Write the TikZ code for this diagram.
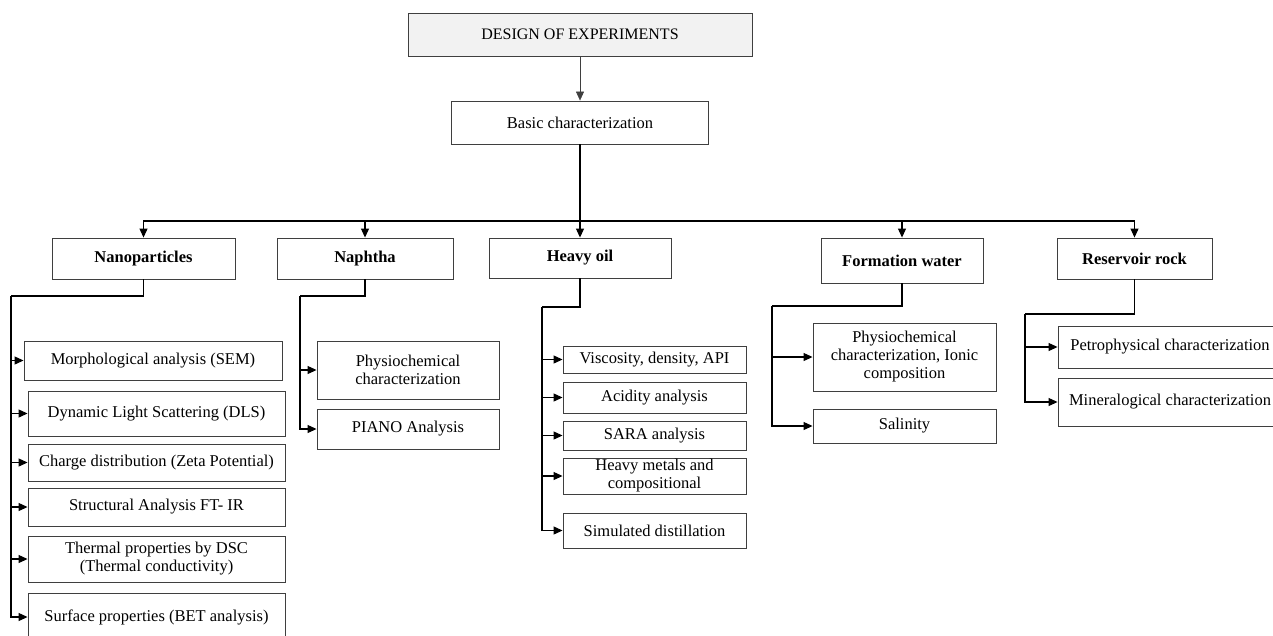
\documentclass[tikz,border=0pt]{standalone}
\usepackage{fontspec}
\setmainfont{Liberation Serif}
\usetikzlibrary{arrows.meta}
\definecolor{boxline}{HTML}{3F3F3F}
\definecolor{topfill}{HTML}{F2F2F2}

\begin{document}
\begin{tikzpicture}[
  x=1pt, y=-1pt,
  box/.style={draw=boxline, line width=0.9pt, align=center, inner sep=0.5pt,
              font=\fontsize{16.5}{18}\selectfont},
  head/.style={box, font=\fontsize{16.5}{18}\selectfont\bfseries},
  link/.style={line width=1.1pt},
  arrow/.style={link, -{Triangle[length=9pt, width=8pt]}},
]
\useasboundingbox (0,0) rectangle (1273,635);

\node[box, fill=topfill, minimum width=344pt, minimum height=43pt,
      font=\fontsize{16}{18}\selectfont] (doe) at (580, 34.5) {DESIGN OF EXPERIMENTS};
\node[box, minimum width=257pt, minimum height=43pt,
      font=\fontsize{16.5}{18}\selectfont] (basic) at (580, 122.5) {Basic characterization};

\node[head, minimum width=183pt, minimum height=41pt] (nano) at (143.5, 258.5) {Nanoparticles};
\node[head, minimum width=176pt, minimum height=41pt] (naph) at (365, 258.5) {Naphtha};
\node[head, minimum width=182pt, minimum height=40pt] (heavy) at (580, 258) {Heavy oil};
\node[head, minimum width=162pt, minimum height=45pt] (water) at (902, 260.5) {Formation water};
\node[head, minimum width=155pt, minimum height=41pt] (rock) at (1134.5, 258.5) {Reservoir rock};

\node[box, minimum width=258pt, minimum height=39pt] (nano1) at (153, 360.5) {Morphological analysis (SEM)};
\node[box, minimum width=257pt, minimum height=45pt] (nano2) at (156.5, 413.5) {Dynamic Light Scattering (DLS)};
\node[box, minimum width=257pt, minimum height=37pt] (nano3) at (156.5, 462.5) {Charge distribution (Zeta Potential)};
\node[box, minimum width=257pt, minimum height=38pt] (nano4) at (156.5, 507) {Structural Analysis FT- IR};
\node[box, minimum width=257pt, minimum height=46pt] (nano5) at (156.5, 559) {Thermal properties by DSC\\(Thermal conductivity)};
\node[box, minimum width=257pt, minimum height=48pt] (nano6) at (156.5, 617) {Surface properties (BET analysis)};

\node[box, minimum width=182pt, minimum height=58pt] (naph1) at (408, 370) {Physiochemical\\characterization};
\node[box, minimum width=182pt, minimum height=40pt] (naph2) at (408, 429) {PIANO Analysis};

\node[box, minimum width=183pt, minimum height=27pt] (heavy1) at (654.5, 359.5) {Viscosity, density, API};
\node[box, minimum width=183pt, minimum height=31pt] (heavy2) at (654.5, 397.5) {Acidity analysis};
\node[box, minimum width=183pt, minimum height=29pt] (heavy3) at (654.5, 435.5) {SARA analysis};
\node[box, minimum width=183pt, minimum height=36pt] (heavy4) at (654.5, 476) {Heavy metals and\\compositional};
\node[box, minimum width=183pt, minimum height=35pt] (heavy5) at (654.5, 530.5) {Simulated distillation};

\node[box, minimum width=183pt, minimum height=68pt] (water1) at (904.5, 357) {Physiochemical\\characterization, Ionic\\composition};
\node[box, minimum width=183pt, minimum height=34pt] (water2) at (904.5, 426) {Salinity};

\node[box, minimum width=224pt, minimum height=42pt] (rock1) at (1170, 347) {Petrophysical characterization};
\node[box, minimum width=224pt, minimum height=48pt] (rock2) at (1170, 402) {Mineralogical characterization};

\coordinate (bus) at (580, 221);
\coordinate (nanobus) at (11, 296);
\coordinate (naphbus) at (300, 296);
\coordinate (heavybus) at (542, 307);
\coordinate (waterbus) at (772, 306);
\coordinate (rockbus) at (1025, 314);

\draw[arrow, line width=0.6pt, boxline] (doe) -- (basic);
\draw[link] (basic.south) -- (bus);
\draw[arrow] (bus) -| (nano.north);
\draw[arrow] (bus) -| (naph.north);
\draw[arrow] (bus) -- (heavy.north);
\draw[arrow] (bus) -| (water.north);
\draw[arrow] (bus) -| (rock.north);

\draw[link] (nano.south) |- (nanobus);
\foreach \i in {1,...,6}
  \draw[arrow] (nanobus) |- (nano\i.west);

\draw[link] (naph.south) |- (naphbus);
\foreach \i in {1,2}
  \draw[arrow] (naphbus) |- (naph\i.west);

\draw[link] (heavy.south) |- (heavybus);
\foreach \i in {1,...,5}
  \draw[arrow] (heavybus) |- (heavy\i.west);

\draw[link] (water.south) |- (waterbus);
\foreach \i in {1,2}
  \draw[arrow] (waterbus) |- (water\i.west);

\draw[link] (rock.south) |- (rockbus);
\foreach \i in {1,2}
  \draw[arrow] (rockbus) |- (rock\i.west);

\end{tikzpicture}
\end{document}
